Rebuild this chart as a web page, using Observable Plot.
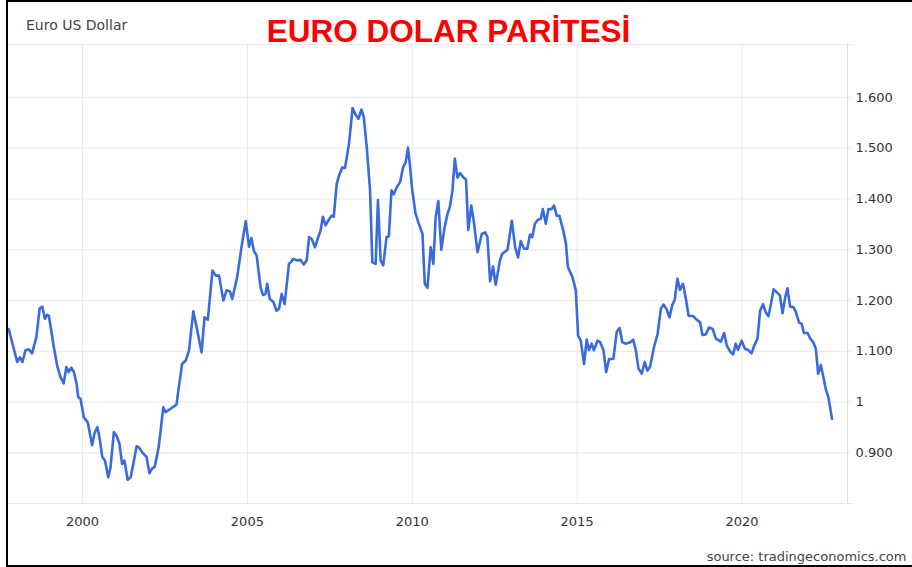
<!DOCTYPE html>
<html>
<head>
<meta charset="utf-8">
<script src="https://cdn.jsdelivr.net/npm/d3@7"></script>
<script src="https://cdn.jsdelivr.net/npm/@observablehq/plot@0.6"></script>
<style>
  html, body { margin: 0; padding: 0; background: #fff; }
  #wrap { position: relative; width: 912px; height: 567px; overflow: hidden; background: #fff; }
  #frame { position: absolute; left: 6px; top: 0; width: 906px; height: 567px; box-sizing: border-box;
           border-left: 2.5px solid #000; border-top: 2.5px solid #000; border-bottom: 2.5px solid #000; pointer-events: none; }
  #chart svg { display: block; }
</style>
</head>
<body>
<div id="wrap"><div id="chart"></div><div id="frame"></div></div>
<script>
// ---- data ----
const seriesLabel = "Euro US Dollar";
const titleText = "EURO DOLAR PARİTESİ";
const sourceText = "source: tradingeconomics.com";

const dates = [
  1997.76,1998.02,1998.10,1998.18,1998.27,1998.37,1998.47,1998.60,1998.70,1998.78,1998.86,1998.93,1998.98,
  1999.13,1999.23,1999.33,1999.43,1999.51,1999.58,1999.66,1999.74,1999.82,1999.87,1999.94,
  2000.04,2000.16,2000.29,2000.36,2000.45,2000.52,2000.60,2000.68,2000.78,2000.85,2000.95,
  2001.03,2001.12,2001.20,2001.27,2001.37,2001.46,2001.54,2001.64,2001.71,2001.81,2001.94,
  2002.03,2002.11,2002.19,2002.31,2002.45,2002.52,2002.67,2002.85,2002.92,
  2003.02,2003.13,2003.23,2003.36,2003.48,2003.61,2003.70,2003.80,2003.94,
  2004.04,2004.14,2004.27,2004.37,2004.47,2004.54,2004.69,2004.82,2004.95,
  2005.05,2005.12,2005.20,2005.28,2005.40,2005.47,2005.55,2005.60,2005.68,2005.79,2005.88,2005.96,
  2006.04,2006.13,2006.26,2006.31,2006.39,2006.51,2006.61,2006.71,2006.80,2006.87,2006.95,
  2007.05,2007.15,2007.22,2007.29,2007.37,2007.45,2007.55,2007.62,2007.71,2007.78,2007.88,2007.96,
  2008.08,2008.19,2008.28,2008.37,2008.46,2008.53,2008.62,2008.72,2008.79,2008.89,2008.96,
  2009.04,2009.12,2009.22,2009.29,2009.37,2009.44,2009.53,2009.63,2009.72,2009.80,2009.87,2009.93,
  2010.00,2010.10,2010.20,2010.31,2010.38,2010.46,2010.56,2010.64,2010.71,2010.79,2010.88,2010.98,
  2011.07,2011.14,2011.22,2011.29,2011.37,2011.45,2011.55,2011.63,2011.70,2011.79,2011.87,2011.98,
  2012.11,2012.21,2012.28,2012.36,2012.45,2012.53,2012.66,2012.73,2012.89,
  2013.02,2013.12,2013.21,2013.29,2013.39,2013.49,2013.57,2013.64,2013.72,2013.81,2013.90,2013.96,
  2014.05,2014.13,2014.23,2014.30,2014.38,2014.46,2014.58,2014.66,2014.72,2014.81,2014.86,2014.96,
  2015.03,2015.11,2015.21,2015.29,2015.36,2015.44,2015.51,2015.62,2015.70,2015.80,2015.88,2015.97,
  2016.10,2016.20,2016.29,2016.37,2016.47,2016.61,2016.70,2016.78,2016.86,2016.96,
  2017.05,2017.13,2017.21,2017.33,2017.44,2017.54,2017.62,2017.72,2017.80,2017.89,2017.96,
  2018.04,2018.12,2018.21,2018.30,2018.38,2018.53,2018.63,2018.73,2018.80,2018.90,
  2019.00,2019.11,2019.21,2019.36,2019.46,2019.54,2019.66,2019.73,2019.81,2019.88,2019.99,
  2020.09,2020.20,2020.29,2020.37,2020.47,2020.55,2020.64,2020.72,2020.80,2020.87,2020.96,
  2021.06,2021.15,2021.23,2021.31,2021.38,2021.46,2021.56,2021.63,2021.73,2021.81,2021.88,2021.99,
  2022.07,2022.16,2022.24,2022.31,2022.39,2022.47,2022.54,2022.62,2022.73
];

const rates = [
  1.144,1.079,1.088,1.079,1.102,1.104,1.096,1.128,1.184,1.188,1.164,1.172,1.170,
  1.108,1.072,1.049,1.037,1.069,1.059,1.068,1.059,1.036,1.010,1.006,
  0.970,0.960,0.915,0.938,0.951,0.928,0.892,0.885,0.852,0.872,0.941,
  0.934,0.918,0.878,0.885,0.847,0.852,0.878,0.913,0.911,0.901,0.892,
  0.860,0.869,0.873,0.911,0.990,0.980,0.987,0.995,1.029,
  1.075,1.082,1.102,1.179,1.141,1.098,1.167,1.162,1.259,
  1.249,1.249,1.200,1.220,1.218,1.203,1.246,1.305,1.356,
  1.306,1.323,1.297,1.289,1.226,1.211,1.213,1.233,1.203,1.197,1.180,1.184,
  1.213,1.193,1.272,1.275,1.282,1.279,1.280,1.271,1.279,1.325,1.321,
  1.305,1.325,1.338,1.365,1.348,1.357,1.367,1.365,1.430,1.446,1.462,1.461,
  1.508,1.579,1.566,1.558,1.576,1.561,1.502,1.417,1.275,1.272,1.398,
  1.279,1.269,1.325,1.326,1.417,1.409,1.423,1.433,1.462,1.472,1.501,1.466,
  1.417,1.371,1.351,1.331,1.233,1.225,1.305,1.272,1.364,1.396,1.300,1.344,
  1.371,1.384,1.417,1.479,1.442,1.451,1.442,1.438,1.339,1.387,1.354,1.295,
  1.331,1.334,1.325,1.238,1.267,1.231,1.279,1.292,1.300,
  1.357,1.305,1.285,1.317,1.302,1.302,1.330,1.325,1.351,1.359,1.361,1.380,
  1.351,1.380,1.380,1.387,1.367,1.367,1.338,1.312,1.266,1.253,1.246,1.220,
  1.131,1.121,1.075,1.123,1.102,1.115,1.102,1.121,1.118,1.102,1.059,1.085,
  1.085,1.138,1.146,1.118,1.115,1.118,1.123,1.102,1.066,1.056,
  1.079,1.062,1.069,1.108,1.134,1.184,1.192,1.182,1.167,1.192,1.201,
  1.243,1.221,1.233,1.203,1.170,1.169,1.162,1.157,1.132,1.133,
  1.147,1.144,1.125,1.119,1.136,1.111,1.098,1.094,1.115,1.103,1.121,
  1.105,1.102,1.096,1.111,1.125,1.180,1.193,1.177,1.169,1.190,1.222,
  1.216,1.210,1.175,1.206,1.224,1.188,1.187,1.178,1.157,1.154,1.136,1.136,
  1.125,1.118,1.105,1.056,1.073,1.049,1.026,1.010,0.967
];

const xTicks = [2000, 2005, 2010, 2015, 2020];
const yTicks = [0.9, 1.0, 1.1, 1.2, 1.3, 1.4, 1.5, 1.6];
const yTickLabels = ["0.900", "1", "1.100", "1.200", "1.300", "1.400", "1.500", "1.600"];

// ---- chart ----
const data = dates.map((d, i) => ({date: d, rate: rates[i]}));
const xDomain = [1997.755, 2023.2];
const yDomain = [0.8004, 1.704];
const gridColor = "#e8e8e8";

const chart = Plot.plot({
  width: 912,
  height: 567,
  marginLeft: 8,
  marginRight: 65,
  marginTop: 44,
  marginBottom: 64,
  style: {background: "transparent", fontFamily: "'DejaVu Sans', sans-serif", fontSize: "13px", color: "#333", overflow: "visible"},
  x: {domain: xDomain, label: null},
  y: {domain: yDomain, label: null},
  marks: [
    Plot.ruleY(yTicks, {stroke: gridColor, strokeWidth: 1, x1: xDomain[0], x2: 2023.3}),
    Plot.ruleY(yDomain, {stroke: gridColor, strokeWidth: 1, x1: xDomain[0], x2: 2023.4}),
    Plot.ruleX(xTicks, {stroke: gridColor, strokeWidth: 1}),
    Plot.ruleX([xDomain[1]], {stroke: "#e0e0e0", strokeWidth: 1}),
    Plot.axisX(xTicks, {tickSize: 0, tickPadding: 13, tickFormat: d => String(d), fill: "#333", label: null}),
    Plot.axisY(yTicks, {anchor: "right", tickSize: 0, tickPadding: 8, tickFormat: d => yTickLabels[yTicks.indexOf(d)], fill: "#333", label: null}),
    Plot.line(data, {x: "date", y: "rate", stroke: "#3a6bdc", strokeWidth: 2.6, strokeLinejoin: "round", strokeLinecap: "round"})
  ]
});

document.getElementById("chart").appendChild(chart);

// titles and source as real text
const svg = d3.select(chart);
svg.append("text")
  .attr("x", 26).attr("y", 29.5).attr("text-anchor", "start")
  .attr("font-family", "'DejaVu Sans', sans-serif").attr("font-size", 14)
  .attr("fill", "#444").text(seriesLabel);
svg.append("text")
  .attr("x", 448.5).attr("y", 41.7).attr("text-anchor", "middle")
  .attr("font-family", "'Liberation Sans', Arial, sans-serif").attr("font-weight", "bold").attr("font-size", 31.5)
  .attr("fill", "#ff0000").text(titleText);
svg.append("text")
  .attr("x", 906.5).attr("y", 561).attr("text-anchor", "end")
  .attr("font-family", "'DejaVu Sans', sans-serif").attr("font-size", 13)
  .attr("fill", "#444").text(sourceText);
</script>
</body>
</html>
